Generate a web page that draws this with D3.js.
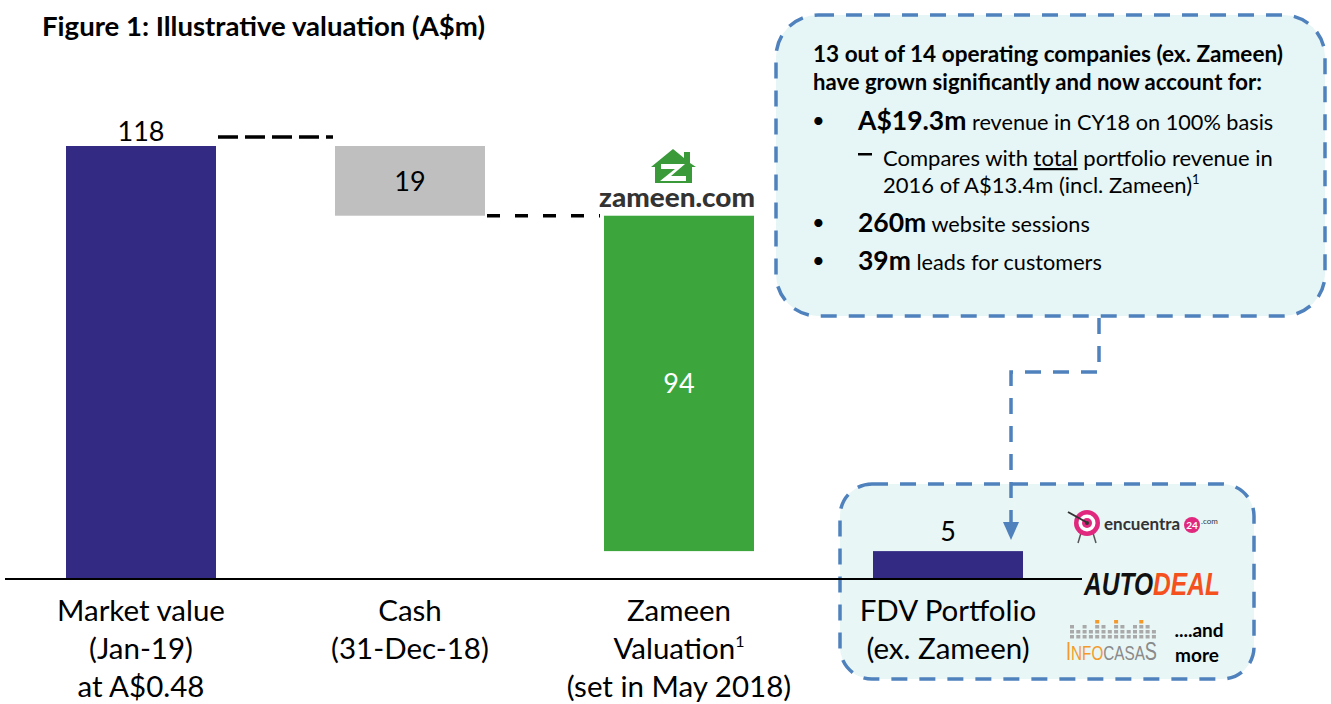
<!DOCTYPE html>
<html><head><meta charset="utf-8">
<script src="https://cdn.jsdelivr.net/npm/d3@7"></script>
<style>
body{margin:0;background:#fff;}
svg{display:block;font-family:Lato,"Open Sans",sans-serif;}
</style></head>
<body><svg id="c" width="1331" height="704"></svg>
<script>
// ---- data ----
const categories = ["Market value", "Cash", "Zameen", "FDV Portfolio"];
const categoryLines = [
  ["Market value", "(Jan-19)", "at A$0.48"],
  ["Cash", "(31-Dec-18)"],
  ["Zameen", "Valuation|1", "(set in May 2018)"],
  ["FDV Portfolio", "(ex. Zameen)"]
];
// drawn bar extents and printed labels
const barStart = [0, 118, 99, 0];
const barEnd   = [118, 99, 7.6, 7.6];
const valueLabels = ["118", "19", "94", "5"];
const barColors = ["#332a84", "#bfbfbf", "#3ca63c", "#332a84"];

const svg = d3.select("#c");
const x = d3.scaleBand().domain(categories).range([66, 1023]).paddingInner(0.4424).paddingOuter(0);
const y = d3.scaleLinear().domain([0, 118]).range([579, 146]);

// ---- callout boxes (behind) ----
const blue = "#4f81bd";
svg.append("rect").attr("x", 776).attr("y", 15).attr("width", 549).attr("height", 301)
  .attr("rx", 42).attr("fill", "#e6f5f5").attr("stroke", blue).attr("stroke-width", 3.5)
  .attr("stroke-dasharray", "16 12");
svg.append("rect").attr("x", 840).attr("y", 484).attr("width", 414).attr("height", 195)
  .attr("rx", 32).attr("fill", "#e8f6f6").attr("stroke", blue).attr("stroke-width", 3.5)
  .attr("stroke-dasharray", "16 12");

// connector from box to portfolio
svg.append("path").attr("d", "M1099,318 V372 H1011 V524")
  .attr("fill", "none").attr("stroke", blue).attr("stroke-width", 3.5).attr("stroke-dasharray", "16 12");
svg.append("path").attr("d", "M1003,522 L1019,522 L1011,540 Z").attr("fill", blue);

// ---- bars ----
svg.selectAll("rect.bar").data(categories).join("rect").attr("class", "bar")
  .attr("x", d => x(d)).attr("width", x.bandwidth())
  .attr("y", (d, i) => y(Math.max(barStart[i], barEnd[i])))
  .attr("height", (d, i) => Math.abs(y(barStart[i]) - y(barEnd[i])))
  .attr("fill", (d, i) => barColors[i]);

// dashed connectors
svg.append("line").attr("x1", x(categories[0]) + x.bandwidth() + 2).attr("x2", x(categories[1]) - 2)
  .attr("y1", y(barEnd[0]) - 9).attr("y2", y(barEnd[0]) - 9)
  .attr("stroke", "#000").attr("stroke-width", 3.5).attr("stroke-dasharray", "20 7");
svg.append("line").attr("x1", x(categories[1]) + x.bandwidth() + 2).attr("x2", x(categories[2]) - 4)
  .attr("y1", y(barEnd[1])).attr("y2", y(barEnd[1]))
  .attr("stroke", "#000").attr("stroke-width", 3.5).attr("stroke-dasharray", "13 15");

// baseline
svg.append("line").attr("x1", 5).attr("x2", 1082).attr("y1", y(0)).attr("y2", y(0))
  .attr("stroke", "#000").attr("stroke-width", 2);

// value labels
const cx = i => x(categories[i]) + x.bandwidth() / 2;
const lbl = (i, yy, col) => svg.append("text").attr("x", cx(i)).attr("y", yy)
  .attr("text-anchor", "middle").attr("font-size", 27).attr("fill", col).text(valueLabels[i]);
lbl(0, y(barEnd[0]) - 5, "#000");
lbl(1, (y(barStart[1]) + y(barEnd[1])) / 2 + 10, "#000");
lbl(2, (y(barStart[2]) + y(barEnd[2])) / 2 + 10, "#fff");
lbl(3, y(barEnd[3]) - 10, "#000");

// category labels
categoryLines.forEach((lines, i) => {
  lines.forEach((ln, j) => {
    const t = svg.append("text").attr("x", cx(i)).attr("y", 621 + j * 38)
      .attr("text-anchor", "middle").attr("font-size", 29.5).attr("fill", "#000");
    const parts = ln.split("|");
    t.append("tspan").text(parts[0]);
    if (parts[1]) t.append("tspan").attr("font-size", 16).attr("dy", -12).text(parts[1]);
  });
});

// title
svg.append("text").attr("x", 42).attr("y", 36).attr("font-size", 26).attr("font-weight", "bold")
  .attr("textLength", 443).attr("lengthAdjust", "spacingAndGlyphs")
  .text("Figure 1: Illustrative valuation (A$m)");

// ---- box 1 text ----
const b = svg.append("g").attr("fill", "#000");
b.append("text").attr("x", 813).attr("y", 62).attr("font-size", 22.4).attr("font-weight", "bold")
  .attr("textLength", 470).attr("lengthAdjust", "spacingAndGlyphs")
  .text("13 out of 14 operating companies (ex. Zameen)");
b.append("text").attr("x", 813).attr("y", 90).attr("font-size", 22.4).attr("font-weight", "bold")
  .attr("textLength", 449).attr("lengthAdjust", "spacingAndGlyphs")
  .text("have grown significantly and now account for:");
const bullets = [[130, "A$19.3m", " revenue in CY18 on 100% basis"], [232, "260m", " website sessions"], [270, "39m", " leads for customers"]];
bullets.forEach(([yy, bold, rest]) => {
  b.append("text").attr("x", 812).attr("y", yy - 2).attr("font-size", 22).text("•");
  const t = b.append("text").attr("x", 858).attr("y", yy);
  t.append("tspan").attr("font-size", 26.5).attr("font-weight", "bold").text(bold);
  t.append("tspan").attr("font-size", 21.7).text(rest);
});
b.append("rect").attr("x", 858).attr("y", 153).attr("width", 14).attr("height", 2.5).attr("fill", "#000");
const c1 = b.append("text").attr("x", 883).attr("y", 166).attr("font-size", 22);
c1.append("tspan").text("Compares with ");
c1.append("tspan").attr("text-decoration", "underline").text("total");
c1.append("tspan").text(" portfolio revenue in");
const c2 = b.append("text").attr("x", 883).attr("y", 193).attr("font-size", 22);
c2.append("tspan").text("2016 of A$13.4m (incl. Zameen)");
c2.append("tspan").attr("font-size", 13).attr("dy", -9).text("1");

// ---- zameen logo ----
const z = svg.append("g");
z.append("path").attr("d", "M651,167 L673,149 L684,158 L684,152 L690,152 L690,163 L696,167 L692,167 L692,183 L655,183 L655,167 Z")
  .attr("fill", "#3a9a3a");
z.append("path").attr("d", "M661,164 L685,164 L671,176 L686,176 L686,181 L660,181 L675,169 L661,169 Z").attr("fill", "#fff");
z.append("text").attr("x", 677).attr("y", 207).attr("text-anchor", "middle").attr("font-size", 26)
  .attr("font-weight", "900").attr("fill", "#333").attr("textLength", 156).attr("lengthAdjust", "spacingAndGlyphs")
  .text("zameen.com");

// ---- encuentra24 logo ----
const e = svg.append("g");
e.append("line").attr("x1", 1081).attr("y1", 533).attr("x2", 1078).attr("y2", 543).attr("stroke", "#555").attr("stroke-width", 1.5);
e.append("line").attr("x1", 1093).attr("y1", 533).attr("x2", 1096).attr("y2", 543).attr("stroke", "#555").attr("stroke-width", 1.5);
e.append("circle").attr("cx", 1087).attr("cy", 523).attr("r", 13).attr("fill", "#e0297e");
e.append("circle").attr("cx", 1087).attr("cy", 523).attr("r", 8.5).attr("fill", "#fff");
e.append("circle").attr("cx", 1087).attr("cy", 523).attr("r", 5).attr("fill", "#e0297e");
e.append("circle").attr("cx", 1087).attr("cy", 523).attr("r", 2).attr("fill", "#333");
e.append("line").attr("x1", 1068).attr("y1", 512).attr("x2", 1086).attr("y2", 522).attr("stroke", "#333").attr("stroke-width", 2);
e.append("text").attr("x", 1104).attr("y", 530).attr("font-size", 17).attr("font-weight", "bold").attr("fill", "#333").text("encuentra");
e.append("circle").attr("cx", 1192).attr("cy", 525).attr("r", 8).attr("fill", "#e0297e");
e.append("text").attr("x", 1192).attr("y", 529).attr("text-anchor", "middle").attr("font-size", 10).attr("font-weight", "bold").attr("fill", "#fff").text("24");
e.append("text").attr("x", 1201).attr("y", 524).attr("font-size", 8).attr("fill", "#333").text(".com");

// helper: squeeze a text horizontally to a target width
function squeeze(sel, x0, y0, w) {
  const len = sel.node().getComputedTextLength();
  sel.attr("transform", `translate(${x0},${y0}) scale(${w / len},1)`);
}

// ---- AUTODEAL logo ----
const a = svg.append("text").attr("x", 0).attr("y", 0).attr("font-size", 31).attr("font-weight", "bold")
  .attr("font-style", "italic").attr("font-family", "'Liberation Sans',sans-serif");
a.append("tspan").attr("fill", "#111").text("AUTO");
a.append("tspan").attr("fill", "#f4511e").text("DEAL");
squeeze(a, 1084, 595, 136);

// ---- INFOCASAS logo ----
const ic = svg.append("g");
const cols = [3, 2, 3, 2, 4, 3, 2, 4, 3, 2, 3, 4, 3, 2];
cols.forEach((h, k) => {
  for (let r = 0; r < h; r++) {
    ic.append("rect").attr("x", 1070 + k * 6.3).attr("y", 635 - r * 5).attr("width", 4).attr("height", 3.5)
      .attr("fill", (r === h - 1 && (k === 4 || k === 7 || k === 11)) ? "#f39a2b" : "#a9a9a9");
  }
});
const it = ic.append("text").attr("x", 0).attr("y", 0).attr("font-size", 21)
  .attr("font-family", "'Liberation Sans',sans-serif");
it.append("tspan").attr("fill", "#f39a2b").attr("font-size", 25).text("I");
it.append("tspan").attr("fill", "#f39a2b").text("NFO");
it.append("tspan").attr("fill", "#8a8a8a").text("CASA");
it.append("tspan").attr("fill", "#8a8a8a").attr("font-size", 25).text("S");
squeeze(it, 1066, 660, 91);

svg.append("text").attr("x", 1199).attr("y", 637).attr("text-anchor", "middle").attr("font-size", 19).attr("font-weight", "bold").text("....and");
svg.append("text").attr("x", 1197).attr("y", 662).attr("text-anchor", "middle").attr("font-size", 19).attr("font-weight", "bold").text("more");
</script></body></html>
